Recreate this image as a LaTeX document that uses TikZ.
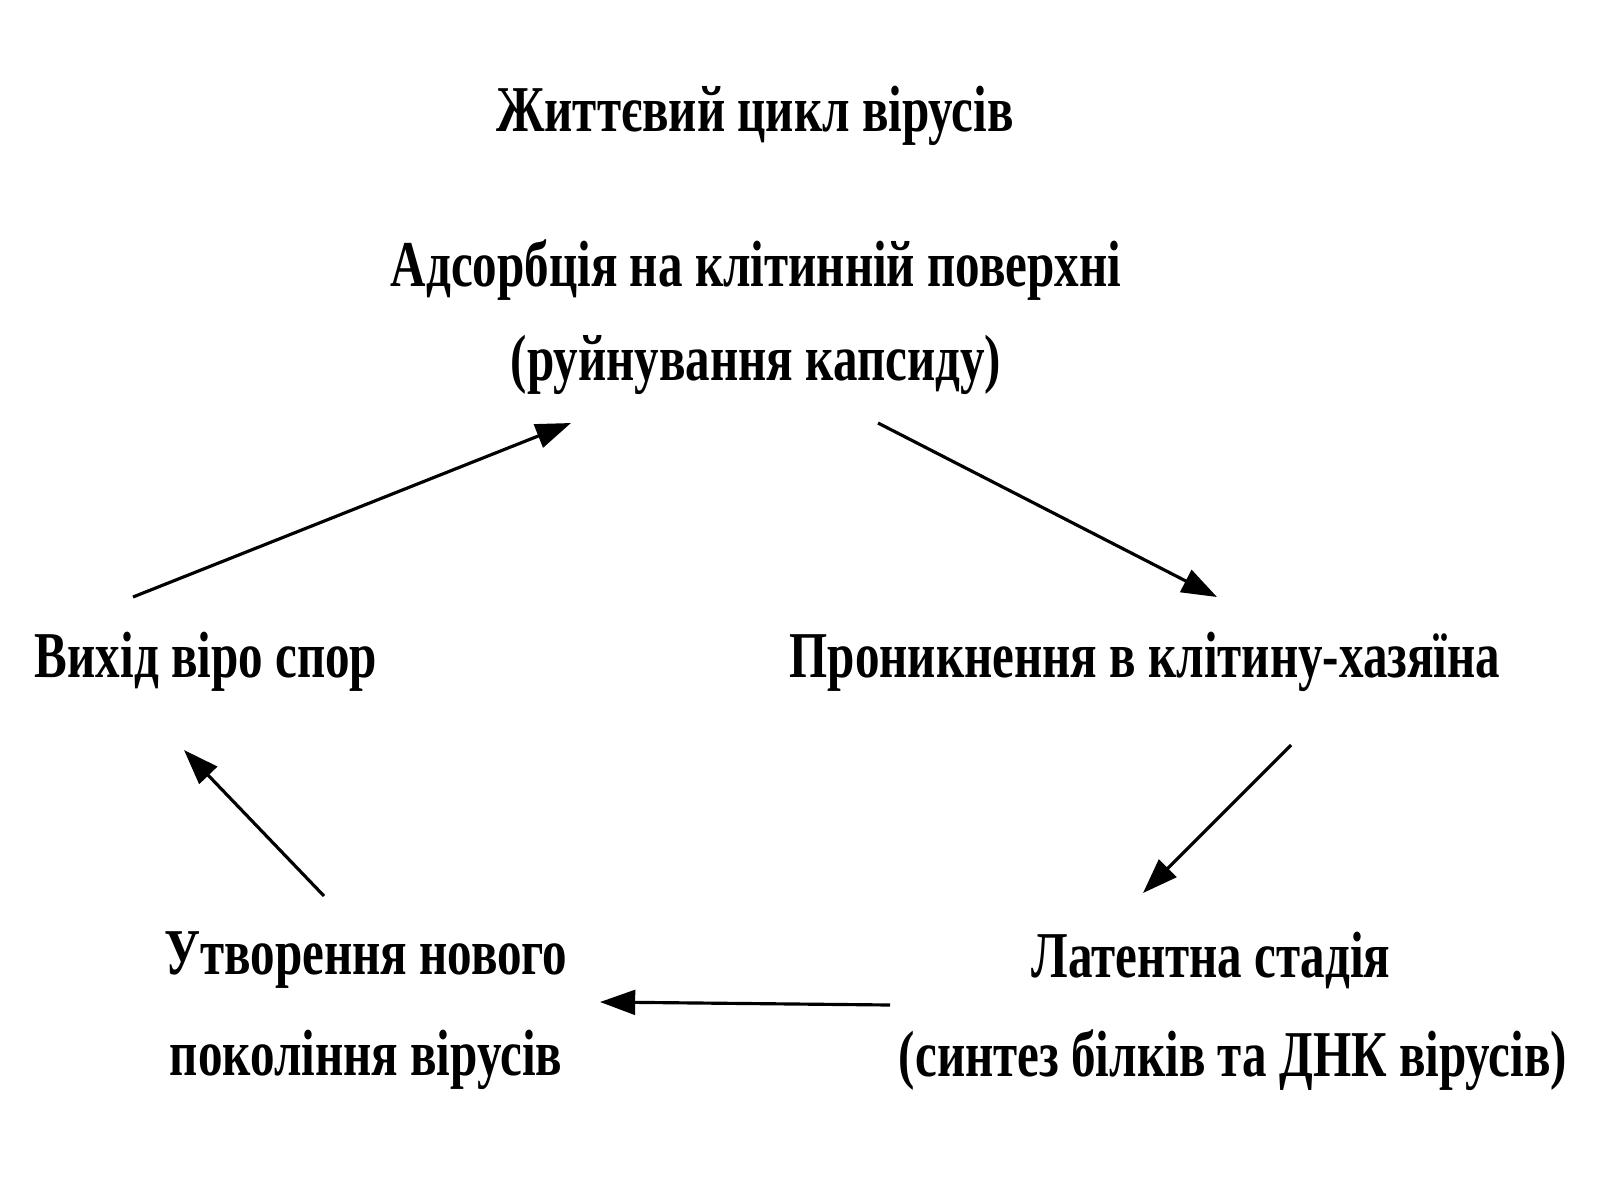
\documentclass[tikz,border=0pt]{standalone}
\usepackage{fontspec}
\setmainfont{Liberation Serif}[FakeStretch=0.75]
\usetikzlibrary{arrows.meta}
\begin{document}
\begin{tikzpicture}[x=0.01cm,y=-0.01cm,
  lbl/.style={font=\fontsize{18.6}{30}\selectfont\bfseries, inner sep=0pt, align=center, text=black},
  conn/.style={line width=0.9pt, -{Triangle[length=10pt,width=7pt]}}]
\useasboundingbox[fill=white] (0,0) rectangle (1600,1200);
\node[lbl] (title) at (755,116) {Життєвий цикл вірусів};
\node[lbl] (ads) at (756,270) {Адсорбція на клітинній поверхні};
\node[lbl] (ads2) at (756,365) {(руйнування капсиду)};
\node[lbl] (exit) at (206,662) {Вихід віро спор};
\node[lbl] (pen) at (1145,662) {Проникнення в клітину-хазяїна};
\node[lbl] (gen1) at (366,960) {Утворення нового};
\node[lbl] (gen2) at (366,1060) {покоління вірусів};
\node[lbl] (lat1) at (1211,960) {Латентна стадія};
\node[lbl] (lat2) at (1233,1060) {(синтез білків та ДНК вірусів)};
\coordinate (a1s) at (133,597); \coordinate (a1e) at (571,423);
\coordinate (a2s) at (878,423); \coordinate (a2e) at (1217,597);
\coordinate (a3s) at (1291,745); \coordinate (a3e) at (1143,893);
\coordinate (a4s) at (890,1005); \coordinate (a4e) at (600,1002);
\coordinate (a5s) at (324,896); \coordinate (a5e) at (184,750);
\draw[conn] (a1s) -- (a1e);
\draw[conn] (a2s) -- (a2e);
\draw[conn] (a3s) -- (a3e);
\draw[conn] (a4s) -- (a4e);
\draw[conn] (a5s) -- (a5e);
\end{tikzpicture}
\end{document}
